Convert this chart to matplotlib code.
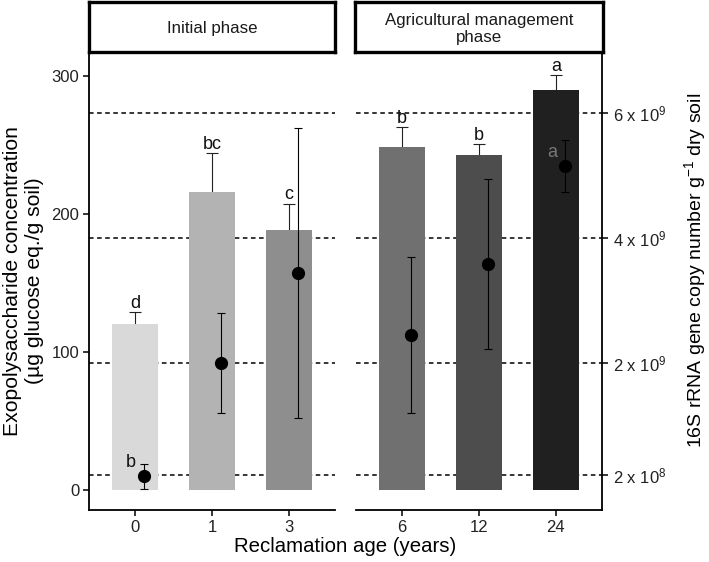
import numpy as np
import matplotlib
matplotlib.use('Agg')
import matplotlib.pyplot as plt

plt.rcParams['font.family'] = ['Liberation Sans', 'DejaVu Sans']
plt.rcParams['mathtext.fontset'] = 'custom'
plt.rcParams['mathtext.rm'] = 'Liberation Sans'
plt.rcParams['mathtext.it'] = 'Liberation Sans:italic'

#-- Data
phases = ['Initial phase', 'Agricultural management\nphase']
ages = [['0', '1', '3'], ['6', '12', '24']]
bar_colors = [['#d9d9d9', '#b3b3b3', '#8e8e8e'], ['#707070', '#4d4d4d', '#202020']]

#-- exopolysaccharide (bars, left axis), mean and SE
eps_mean = [[120.0, 216.0, 188.6], [248.8, 243.0, 289.9]]
eps_se = [[8.8, 28.4, 19.0], [14.0, 7.7, 10.8]]
eps_letters = [['d', 'bc', 'c'], ['b', 'b', 'a']]

#-- 16S copies (points, right axis, x 1e9), mean and SE
gene_mean = [[0.18, 2.00, 3.44], [2.44, 3.58, 5.15]]
gene_se = [[0.20, 0.80, 2.32], [1.25, 1.36, 0.42]]
gene_letters = [['b', '', ''], ['', '', 'a']]

right_ticks = [0.2, 2, 4, 6]
right_ticklabels = [r'2 x 10$^{8}$', r'2 x 10$^{9}$', r'4 x 10$^{9}$', r'6 x 10$^{9}$']

#-- secondary axis scale: left = k * right + b
k, b = 45.25, 1.74
ylo, yhi = -14.5, 317.4

W, H = 709.0, 562.0
fig = plt.figure(figsize=(W / 100, H / 100), dpi=100)

panels = [(89, 335), (356, 602)]
for i, (x0, x1) in enumerate(panels):
    ax = fig.add_axes([x0 / W, (H - 510) / H, (x1 - x0) / W, (510 - 52) / H])
    pos = np.arange(1, 4)

    for t in right_ticks:
        ax.axhline(k * t + b, color='black', lw=1.1, linestyle=(0, (3, 2.3)), zorder=0)

    ax.bar(pos, eps_mean[i], width=0.6, color=bar_colors[i], zorder=1)
    tops = np.array(eps_mean[i]) + np.array(eps_se[i])
    ax.vlines(pos, eps_mean[i], tops, color='#222222', lw=0.8, zorder=0.5)
    ax.hlines(tops, pos - 0.08, pos + 0.08, color='#222222', lw=0.8, zorder=0.5)
    for p, t, lab in zip(pos, tops, eps_letters[i]):
        ax.text(p, t + 3, lab, ha='center', va='baseline', fontsize=13, color='#111111')

    ax.set_xlim(0.4, 3.6)
    ax.set_ylim(ylo, yhi)
    ax.set_xticks(pos)
    ax.set_xticklabels(ages[i], fontsize=12, color='#222222')
    ax.tick_params(axis='x', length=4, width=1.1, pad=3)
    for s in ['top', 'right', 'left']:
        ax.spines[s].set_visible(False)
    ax.spines['bottom'].set_linewidth(1.3)
    if i == 0:
        ax.spines['left'].set_visible(True)
        ax.spines['left'].set_linewidth(1.3)
        ax.set_yticks([0, 100, 200, 300])
        ax.tick_params(axis='y', length=4, width=1.1, labelsize=12, labelcolor='#222222', pad=3)
        ax.set_ylabel('Exopolysaccharide concentration\n(µg glucose eq./g soil)', fontsize=15.2,
                      labelpad=5, linespacing=1.2)
    else:
        ax.set_yticks([])

    #-- points on the secondary scale
    ax2 = ax.twinx()
    ax2.set_ylim((ylo - b) / k, (yhi - b) / k)
    ax2.errorbar(pos + 0.12, gene_mean[i], yerr=gene_se[i], fmt='o', color='black',
                 markersize=8.5, elinewidth=0.8, ecolor='black', capsize=3.2, capthick=0.8, zorder=3)
    for p, m, lab in zip(pos, gene_mean[i], gene_letters[i]):
        if lab:
            col = '#111111' if i == 0 else '#777777'
            ax2.text(p + 0.12 - 0.17, m + 0.15, lab, ha='center', va='baseline', fontsize=13, color=col)
    for s in ['top', 'left', 'bottom']:
        ax2.spines[s].set_visible(False)
    if i == 1:
        ax2.spines['right'].set_linewidth(1.3)
        ax2.set_yticks(right_ticks)
        ax2.set_yticklabels(right_ticklabels, fontsize=12, color='#222222')
        ax2.tick_params(axis='y', length=4, width=1.1, pad=4)
    else:
        ax2.spines['right'].set_visible(False)
        ax2.set_yticks([])

    #-- strip header
    sx0 = x0 if i == 0 else 355
    sx1 = x1 if i == 0 else 603
    st = fig.add_axes([sx0 / W, (H - 52) / H, (sx1 - sx0) / W, 50 / H])
    st.set_xticks([])
    st.set_yticks([])
    for s in st.spines.values():
        s.set_linewidth(2.4)
    st.text(0.5, 0.46, phases[i], ha='center', va='center', fontsize=12.2,
            color='#1a1a1a', transform=st.transAxes, linespacing=1.15)

fig.text(695 / W, 1 - 270 / H, r'16S rRNA gene copy number g$^{-1}$ dry soil',
         rotation=90, ha='center', va='center', fontsize=14)
fig.text(345.5 / W, 1 - 547 / H, 'Reclamation age (years)', ha='center', va='center', fontsize=14.7)

plt.savefig('out.png', dpi=100)
